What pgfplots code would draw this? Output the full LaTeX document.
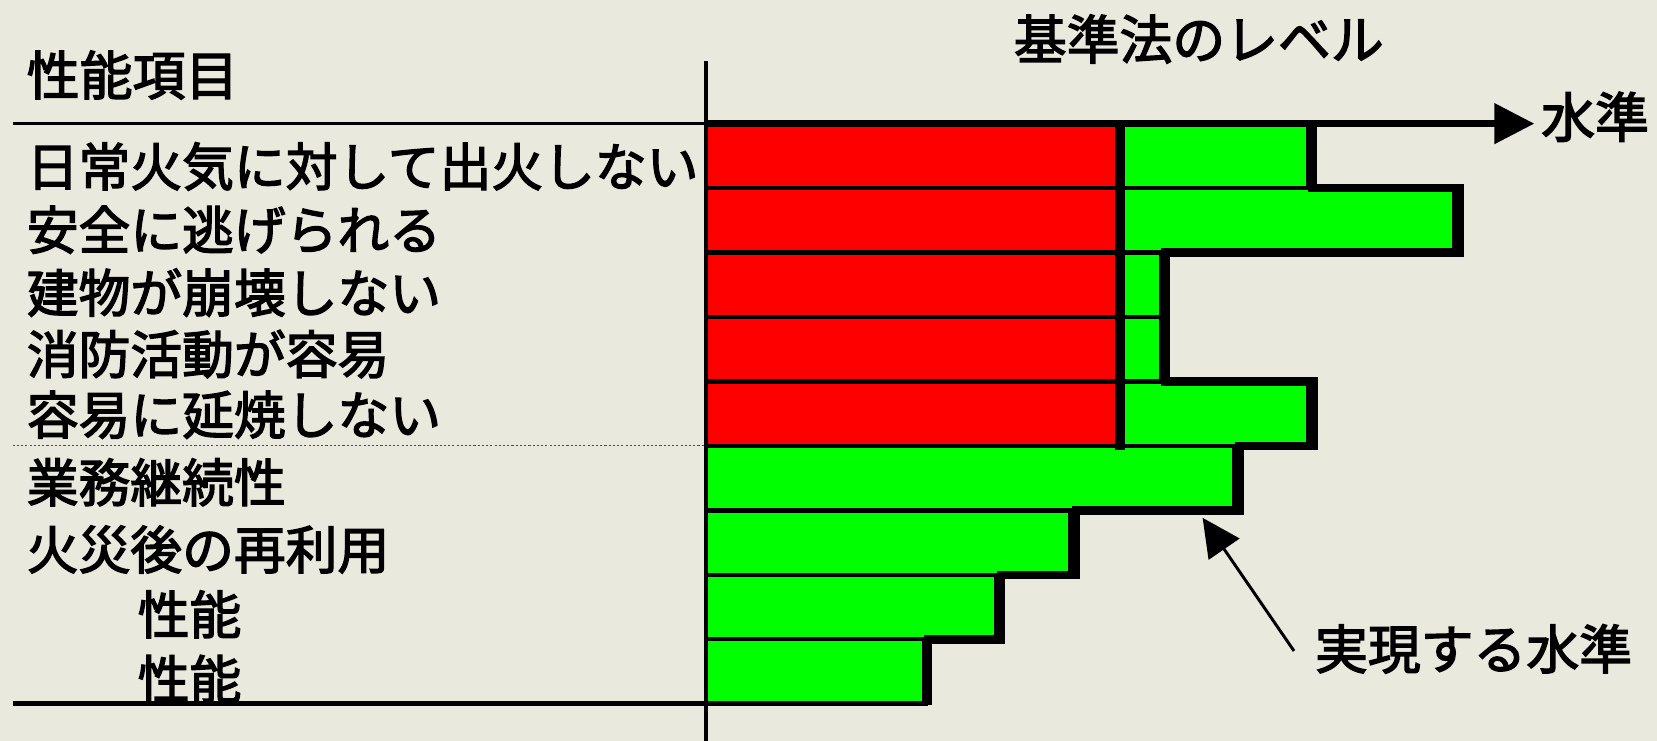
\documentclass[border=0pt]{standalone}
\usepackage{fontspec}
\setmainfont{Noto Sans CJK JP}[FakeBold=2.6, AutoFakeBold=2.6]
\usepackage{pgfplots}
\pgfplotsset{compat=1.18}
\usetikzlibrary{arrows.meta}
\definecolor{bg}{RGB}{233,233,222}
\definecolor{myred}{RGB}{255,0,0}
\definecolor{mygreen}{RGB}{0,255,0}
\begin{document}
\begin{tikzpicture}
\fill[bg] (0,0) rectangle (784pt,350.5pt);
\begin{axis}[
  at={(0,0)}, anchor=south west,
  scale only axis, width=784pt, height=350.5pt,
  xmin=-668, xmax=900, ymin=0, ymax=701, y dir=reverse,
  hide axis, clip=false,
]
% achieved level (green)
\addplot[xbar, bar width=61, bar shift=0pt, fill=mygreen, draw=black, line width=2pt]
  coordinates {(570,147.5) (708,208.5) (431,269.5) (431,330.5) (570,391.5) (500,452.5) (345,513.5) (275,574.5) (206,635.5)};
% building standard law level (red)
\addplot[xbar, bar width=61, bar shift=0pt, fill=myred, draw=black, line width=2pt]
  coordinates {(392,147.5) (392,208.5) (392,269.5) (392,330.5) (392,391.5)};
% staircase outline of achieved level
\addplot[black, line width=4pt, line join=miter, mark=none]
  coordinates {(574,117) (574,178) (713,178) (713,239) (435,239) (435,361) (575,361) (575,422) (505,422) (505,483) (350,483) (350,544) (279,544) (279,605) (210,605) (210,667)};
% divider
\draw[black, line width=4.7pt] (axis cs:392,117) -- (axis cs:392,426);
% axes lines
\draw[black, line width=1.8pt] (axis cs:0,58) -- (axis cs:0,701);
\draw[black, line width=1.6pt] (axis cs:-656,117) -- (axis cs:0,117);
\draw[black, line width=3.6pt, -{Triangle[length=19pt,width=18.5pt]}] (axis cs:0,117) -- (axis cs:784,117);
\draw[black, line width=2.3pt] (axis cs:-656,666) -- (axis cs:210,666);
\draw[black!70, line width=0.5pt, dash pattern=on 1pt off 1pt] (axis cs:-656,422) -- (axis cs:0,422);
% annotation arrow
\draw[black, line width=1.4pt, -{Triangle[length=18pt,width=17.5pt]}] (axis cs:556.5,616) -- (axis cs:470,490);
% texts
\tikzset{lab/.style={anchor=base west, inner sep=0pt, font=\fontsize{24.5}{28}\selectfont\bfseries}}
\node[lab, font=\fontsize{25}{28}\selectfont\bfseries] at (axis cs:-643,90) {性能項目};
\node[lab, font=\fontsize{25}{28}\selectfont\bfseries] at (axis cs:291,56) {基準法のレベル};
\node[lab, font=\fontsize{25.5}{28}\selectfont\bfseries] at (axis cs:790,130) {水準};
\node[lab, font=\fontsize{25}{28}\selectfont\bfseries] at (axis cs:576,633) {実現する水準};
\node[lab] at (axis cs:-643,176) {日常火気に対して出火しない};
\node[lab] at (axis cs:-643,236) {安全に逃げられる};
\node[lab] at (axis cs:-643,295.6) {建物が崩壊しない};
\node[lab] at (axis cs:-643,353.7) {消防活動が容易};
\node[lab] at (axis cs:-643,411) {容易に延焼しない};
\node[lab] at (axis cs:-643,475) {業務継続性};
\node[lab] at (axis cs:-643,538.5) {火災後の再利用};
\node[lab] at (axis cs:-538,600) {性能};
\node[lab] at (axis cs:-538,661) {性能};
\end{axis}
\pgfresetboundingbox
\useasboundingbox (0,0) rectangle (784pt,350.5pt);
\end{tikzpicture}
\end{document}
